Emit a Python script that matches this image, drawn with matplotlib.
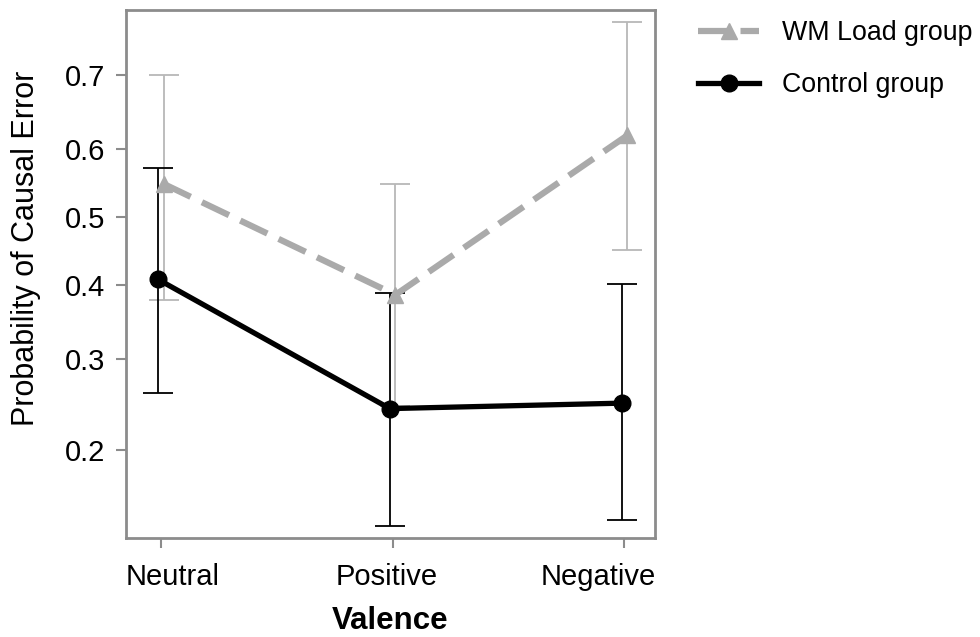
import matplotlib
matplotlib.use("Agg")
import matplotlib.pyplot as plt
from matplotlib.transforms import ScaledTranslation
import numpy as np

plt.rcParams['font.family'] = ['Liberation Sans', 'DejaVu Sans']

categories = ["Neutral", "Positive", "Negative"]
wm_mean = [0.549, 0.386, 0.619]
wm_low = [0.379, 0.245, 0.451]
wm_high = [0.700, 0.549, 0.761]
ctrl_mean = [0.408, 0.242, 0.248]
ctrl_low = [0.259, 0.137, 0.141]
ctrl_high = [0.573, 0.389, 0.401]
yticks = [0.2, 0.3, 0.4, 0.5, 0.6, 0.7]

fig = plt.figure(figsize=(9.8, 6.37), dpi=100)
ax = fig.add_axes([0.1286, 0.1554, 0.668 - 0.1286, 0.984 - 0.1554])
ax.set_yscale('logit')

x = np.arange(len(categories))
dx = 0.012

wm_m = np.array(wm_mean); wm_l = np.array(wm_low); wm_h = np.array(wm_high)
c_m = np.array(ctrl_mean); c_l = np.array(ctrl_low); c_h = np.array(ctrl_high)

ax.errorbar(x + dx, wm_m, yerr=[wm_m - wm_l, wm_h - wm_m], fmt='none',
            ecolor='#b8b8b8', elinewidth=1.3, capsize=11, capthick=1.3, zorder=2)
ax.errorbar(x - dx, c_m, yerr=[c_m - c_l, c_h - c_m], fmt='none',
            ecolor='black', elinewidth=1.3, capsize=11, capthick=1.3, zorder=3)

ax.plot(x + dx, wm_m, color='#aaaaaa', lw=4.5, ls=(0, (4.8, 2.0)), marker='^',
        markersize=12, markeredgecolor='#aaaaaa', markerfacecolor='#aaaaaa',
        label='WM Load group', zorder=4)
ax.plot(x - dx, c_m, color='black', lw=3.8, marker='o', markersize=12,
        label='Control group', zorder=5)

ax.set_ylim(0.1287, 0.774)
ax.set_xlim(-0.15, 2.13)
ax.set_yticks(yticks)
ax.set_yticklabels([f"{t:.1f}" for t in yticks])
ax.yaxis.set_minor_locator(matplotlib.ticker.NullLocator())
ax.set_xticks(x)
ax.set_xticklabels(categories)

for s in ax.spines.values():
    s.set_color('#8c8c8c')
    s.set_linewidth(2)
ax.tick_params(axis='both', colors='#8c8c8c', width=1.5, length=7, labelsize=21,
               labelcolor='black', pad=8)
ax.tick_params(axis='x', pad=11)

for lab, off in zip(ax.get_xticklabels(), [12, -6, -26]):
    lab.set_transform(lab.get_transform() + ScaledTranslation(off / 100, 0, fig.dpi_scale_trans))

ax.set_ylabel('Probability of Causal Error', fontsize=22)
ax.yaxis.set_label_coords(-0.161, 0.549)
ax.set_xlabel('Valence', fontsize=22.5, fontweight='bold', labelpad=11)

leg = ax.legend(loc='upper left', bbox_to_anchor=(1.036, 1.027), frameon=False,
                fontsize=19.3, handlelength=2.3, handletextpad=0.85, labelspacing=0.98)

fig.savefig('out.png', dpi=100)
